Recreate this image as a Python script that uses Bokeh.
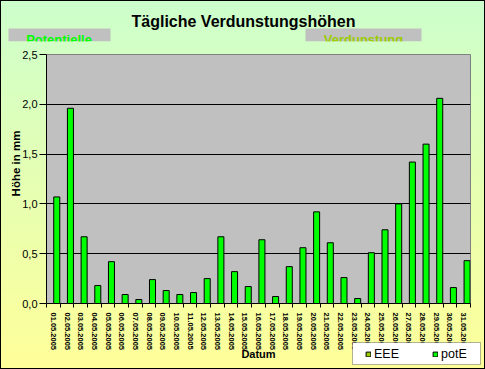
from math import pi
from bokeh.plotting import figure
from bokeh.models import (Range1d, FixedTicker, Label, BoxAnnotation, Legend,
                          LegendItem, ColumnDataSource)
from bokeh.transform import dodge
from bokeh.embed import file_html
from bokeh.resources import INLINE

# ---------------- data ----------------
dates = ["01.05.2005", "02.05.2005", "03.05.2005", "04.05.2005", "05.05.2005",
         "06.05.2005", "07.05.2005", "08.05.2005", "09.05.2005", "10.05.2005",
         "11.05.2005", "12.05.2005", "13.05.2005", "14.05.2005", "15.05.2005",
         "16.05.2005", "17.05.2005", "18.05.2005", "19.05.2005", "20.05.2005",
         "21.05.2005", "22.05.2005", "23.05.2005", "24.05.2005", "25.05.2005",
         "26.05.2005", "27.05.2005", "28.05.2005", "29.05.2005", "30.05.2005",
         "31.05.2005"]
potE = [1.07, 1.96, 0.67, 0.18, 0.42, 0.09, 0.04, 0.24, 0.13, 0.09,
        0.11, 0.25, 0.67, 0.32, 0.17, 0.64, 0.07, 0.37, 0.56, 0.92,
        0.61, 0.26, 0.05, 0.51, 0.74, 1.00, 1.42, 1.60, 2.06, 0.16,
        0.43]
eee = [0.0, 0.0, 0.0, 0.0, 0.0, 0.0, 0.0, 0.0, 0.0, 0.0,
       0.0, 0.0, 0.0, 0.0, 0.0, 0.0, 0.0, 0.0, 0.0, 0.0,
       0.0, 0.0, 0.0, 0.0, 0.0, 0.0, 0.0, 0.0, 0.0, 0.0,
       0.0]
y_ticks = [0.0, 0.5, 1.0, 1.5, 2.0, 2.5]
y_tick_labels = ["0,0", "0,5", "1,0", "1,5", "2,0", "2,5"]
series_names = ["EEE", "potE"]
title_text = "Tägliche Verdunstungshöhen"
sub_left = "Potentielle"
sub_right = "Verdunstung"
x_title = "Datum"
y_title = "Höhe in mm"

# ---------------- layout ----------------
W, H = 485, 369
L, R, T, B = 46, 15, 54, 66
FONT = "Liberation Sans"
GREEN = "#00FF00"
OLIVE = "#99CC00"

idx = list(range(1, len(dates) + 1))
src = ColumnDataSource(dict(x=idx, date=dates, eee=eee, pote=potE))

# ---------------- main chart ----------------
p = figure(width=W, height=H,
           x_range=Range1d(0.5, len(dates) + 0.5), y_range=Range1d(0, 2.5),
           output_backend="svg", toolbar_location=None, title=None,
           min_border_left=L, min_border_right=R,
           min_border_top=T, min_border_bottom=B,
           background_fill_color="#C0C0C0", border_fill_color=None,
           outline_line_color="#808080", outline_line_width=1)
p.styles = {"background": "linear-gradient(to bottom, #CCFFCC, #FFFF99)",
            "box-shadow": "inset 0 0 0 1px #000000"}

xa = p.xaxis[0]
xa.ticker = FixedTicker(ticks=idx, minor_ticks=[i - 0.5 for i in idx] + [idx[-1] + 0.5])
xa.major_label_overrides = {i: d for i, d in zip(idx, dates)}
xa.major_label_orientation = "vertical"
xa.major_tick_out = 0
xa.major_tick_in = 0
xa.minor_tick_out = 4
xa.minor_tick_in = 0
xa.minor_tick_line_color = "black"
xa.axis_line_color = "black"
xa.major_label_standoff = 5
xa.major_label_text_font = FONT
xa.major_label_text_font_style = "bold"
xa.major_label_text_font_size = "7.5px"
xa.major_label_text_color = "black"

ya = p.yaxis[0]
ya.ticker = FixedTicker(ticks=y_ticks, minor_ticks=[])
ya.major_label_overrides = {t: s for t, s in zip(y_ticks, y_tick_labels)}
ya.major_tick_out = 7
ya.major_tick_in = 0
ya.minor_tick_out = 0
ya.minor_tick_in = 0
ya.major_tick_line_color = "black"
ya.axis_line_color = "black"
ya.major_label_standoff = 2
ya.major_label_text_font = FONT
ya.major_label_text_font_size = "11px"
ya.major_label_text_color = "black"

p.xgrid.visible = False
p.ygrid.ticker = FixedTicker(ticks=[0.5, 1.0, 1.5, 2.0], minor_ticks=[])
p.ygrid.grid_line_color = "black"
p.ygrid.grid_line_width = 1

r_eee = p.vbar(x=dodge("x", -0.25, range=p.x_range), top="eee", width=0.44,
               source=src, fill_color=OLIVE, line_color="black", line_width=1)
r_pot = p.vbar(x=dodge("x", 0.25, range=p.x_range), top="pote", width=0.44,
               source=src, fill_color=GREEN, line_color="black", line_width=1)

# ---------------- overlay (separate root, same position) ----------------
o = figure(width=W, height=H, x_range=Range1d(0, W), y_range=Range1d(H, 0),
           output_backend="svg", toolbar_location=None, title=None,
           x_axis_location=None, y_axis_location=None,
           min_border=0, min_border_left=0, min_border_right=0,
           min_border_top=0, min_border_bottom=0,
           background_fill_color=None, border_fill_color=None,
           outline_line_color=None)
o.xgrid.visible = False
o.ygrid.visible = False
o.styles = {"position": "absolute", "top": "0px", "left": "0px"}


def lab(x, y, text, size, color="black", bold=True, align="center",
        baseline="alphabetic", angle=0.0):
    o.add_layout(Label(x=x, y=y, text=text, text_font=FONT, text_font_size=size,
                       text_font_style="bold" if bold else "normal",
                       text_color=color, text_align=align,
                       text_baseline=baseline, angle=angle))


def box(l, r, t, b, fill, line=None):
    o.add_layout(BoxAnnotation(left=l, right=r, top=t, bottom=b,
                               fill_color=fill, fill_alpha=1,
                               line_color=line, line_width=1,
                               level="annotation"))


lab(243, 21, title_text, "16px")

box(8, 110, 28, 41, "#C0C0C0")
box(305, 421, 28, 41, "#C0C0C0")
lab(58.5, 38.5, sub_left, "13px", color=GREEN)
lab(363, 38.5, sub_right, "13px", color=OLIVE)
box(7, 112, 41, 48, "#D2FFC6")
box(303, 423, 41, 48, "#D2FFC6")

lab(15, 163, y_title, "11.5px", baseline="middle", angle=pi / 2)
lab(258, 353, x_title, "11px")

# legend (off-screen proxy renderers carry the series colours)
box(352, 480, 342, 364, "white", line="black")
g_eee = o.vbar(x=[-100], top=[-100], width=1, fill_color=OLIVE, line_color="black")
g_pot = o.vbar(x=[-100], top=[-100], width=1, fill_color=GREEN, line_color="black")
legend = Legend(items=[LegendItem(label=series_names[0], renderers=[g_eee]),
                       LegendItem(label=series_names[1], renderers=[g_pot])],
                location=(365, H - 361), orientation="horizontal",
                padding=4, margin=0, spacing=33, glyph_width=6, glyph_height=6,
                label_standoff=3, label_height=13,
                label_text_font=FONT, label_text_font_size="12.5px",
                label_text_color="black",
                border_line_color=None, background_fill_alpha=0)
o.add_layout(legend)

open("out.html", "w").write(file_html([p, o], INLINE))
